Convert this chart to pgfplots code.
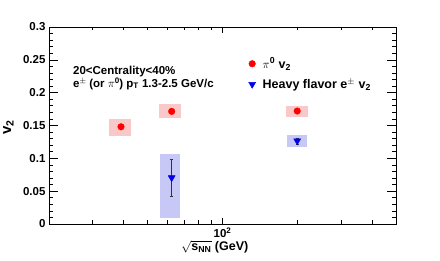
\documentclass[border=0pt]{standalone}
\usepackage{pgfplots}
\pgfplotsset{compat=1.18}
\usepackage{fontspec}
\setmainfont{Liberation Sans}
\definecolor{pibox}{RGB}{249,200,200}
\definecolor{hfbox}{RGB}{200,200,246}
\definecolor{hfblue}{RGB}{0,0,240}
\newcommand{\smallsup}[1]{\raisebox{3.3pt}{\fontsize{8}{8}\selectfont #1}}
\begin{document}
\begin{tikzpicture}
\path[use as bounding box] (-49pt,-37pt) rectangle (391pt,224pt);
\begin{axis}[
  at={(0pt,0pt)}, anchor=south west,
  scale only axis, width=347pt, height=197pt,
  xmode=log, xmin=20, xmax=500, ymin=0, ymax=0.3,
  xtick={100}, xticklabels={\bfseries 10\textsuperscript{2}},
  minor xtick={30,40,50,60,70,80,90,200,300,400},
  ytick={0,0.05,0.1,0.15,0.2,0.25,0.3},
  yticklabels={0,0.05,0.1,0.15,0.2,0.25,0.3},
  minor y tick num=4,
  tick align=inside,
  xtick style={/pgfplots/major tick length=6pt,/pgfplots/minor tick length=3.5pt, black, line width=0.6pt},
  ytick style={/pgfplots/major tick length=9.5pt,/pgfplots/minor tick length=4.5pt, black, line width=0.6pt},
  axis line style={line width=0.9pt},
  tick label style={font=\fontsize{11.5}{13}\selectfont\bfseries},
  /pgf/number format/assume math mode=true,
  xlabel={\bfseries$\sqrt{\mathbf{s}_{\mathbf{NN}}}$ (GeV)},
  xlabel style={at={(rel axis cs:0.478,-0.117)}, anchor=center, font=\fontsize{12.5}{14}\selectfont},
  ylabel={\bfseries v\textsubscript{2}},
  ylabel style={at={(rel axis cs:-0.117,0.49)}, anchor=center, font=\fontsize{15}{17}\selectfont},
  legend style={at={(rel axis cs:0.575,0.855)}, anchor=north west, draw=none, fill=none,
    font=\fontsize{12.5}{14}\selectfont\bfseries, row sep=5pt, inner sep=0pt,
    /tikz/every odd column/.append style={column sep=5pt}},
  legend cell align=left,
  legend image code/.code={\draw[#1] plot coordinates {(0.2cm,0cm)};},
  clip=false,
]
% systematic boxes
\addplot[fill=pibox, draw=none, forget plot] coordinates {(34.9,0.134) (42.9,0.134) (42.9,0.160) (34.9,0.160)} -- cycle;
\addplot[fill=pibox, draw=none, forget plot] coordinates {(55.7,0.161) (67.8,0.161) (67.8,0.183) (55.7,0.183)} -- cycle;
\addplot[fill=pibox, draw=none, forget plot] coordinates {(180,0.163) (221,0.163) (221,0.180) (180,0.180)} -- cycle;
\addplot[fill=hfbox, draw=none, forget plot] coordinates {(56.2,0.0096) (67.3,0.0096) (67.3,0.1066) (56.2,0.1066)} -- cycle;
\addplot[fill=hfbox, draw=none, forget plot] coordinates {(181.7,0.118) (218.9,0.118) (218.9,0.135) (181.7,0.135)} -- cycle;
% pi0
\addplot[only marks, mark=*, mark size=3.3pt, color=red,
  error bars/.cd, y dir=both, y explicit, error bar style={black, line width=0.5pt}, error mark options={black, mark size=1.5pt, rotate=90}]
  coordinates {(39,0.148) +- (0,0.002) (62.4,0.1715) +- (0,0.002) (200,0.172) +- (0,0.002)};
\addlegendentry{$\pi^{\mathbf{0}}$ v\textsubscript{2}}
% heavy flavor
\addplot[only marks, mark=triangle*, mark size=4pt, color=hfblue, mark options={rotate=180},
  error bars/.cd, y dir=both, y explicit, error bar style={black!80, line width=0.6pt}, error mark options={black!80, mark size=1.6pt, rotate=90, line width=0.6pt}]
  coordinates {(62.4,0.0705) +- (0,0.0285) (200,0.1265) +- (0,0.0045)};
\addlegendentry{Heavy flavor e\textsuperscript{$\pm$} v\textsubscript{2}}
\node[anchor=north west, inner sep=0pt, align=left, font=\fontsize{11.5}{12.5}\selectfont\bfseries] at (rel axis cs:0.069,0.802) {20<Centrality<40\%\\e\smallsup{$\pm$} (or $\pi$\smallsup{\bfseries 0}) p\textsubscript{T} 1.3-2.5 GeV/c};
\end{axis}
\end{tikzpicture}
\end{document}
